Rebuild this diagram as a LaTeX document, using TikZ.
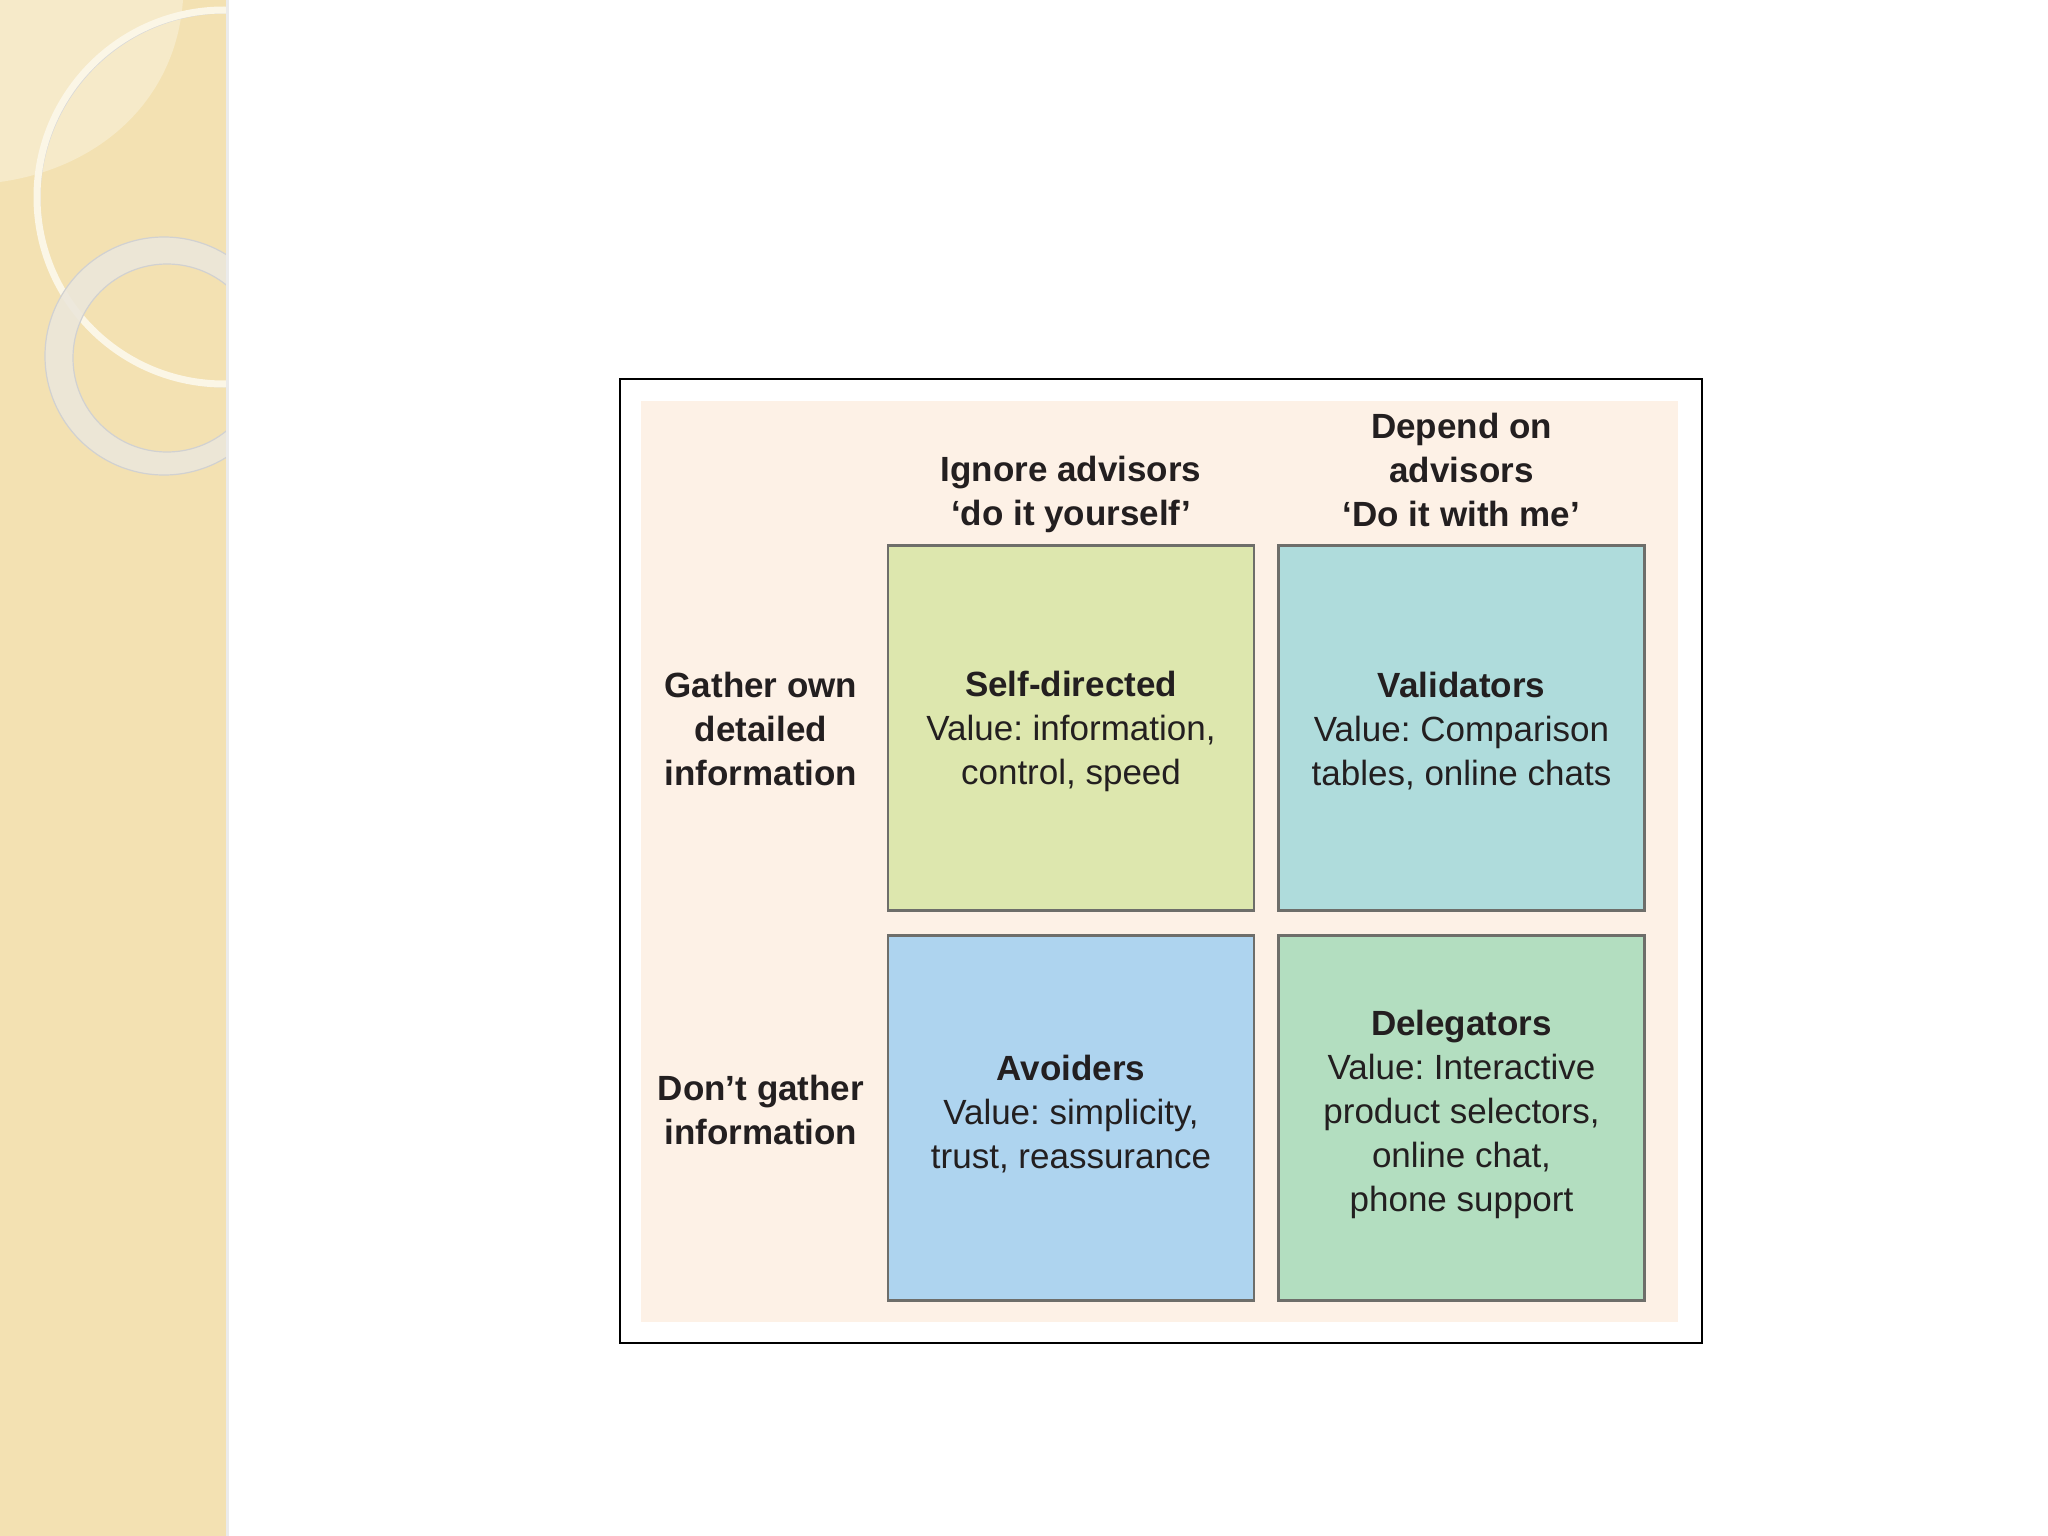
\documentclass[tikz,border=0pt]{standalone}
\usepackage{fontspec}
\setmainfont{Liberation Sans}
\frenchspacing
\begin{document}
\begin{tikzpicture}[x=1pt,y=-1pt,
  txt/.style={text=textc,align=center,inner sep=0pt,font=\fontsize{35}{44}\selectfont},
  hdr/.style={txt,font=\fontsize{35}{44}\selectfont\bfseries},
  quad/.style={draw=boxline,line width=2.2pt,minimum width=366pt,minimum height=365pt,inner sep=0pt}]
\definecolor{strip}{HTML}{F3E1B2}
\definecolor{stripl}{HTML}{F6EAC9}
\definecolor{ringc}{HTML}{ECE7DB}
\definecolor{ringl}{HTML}{FBF6E6}
\definecolor{cream}{HTML}{FDF1E6}
\definecolor{gA}{HTML}{DDE7AE}
\definecolor{tB}{HTML}{AFDCDC}
\definecolor{bC}{HTML}{AED4EF}
\definecolor{mD}{HTML}{B3DEC0}
\definecolor{boxline}{HTML}{6E6E6A}
\definecolor{textc}{HTML}{231F20}
\useasboundingbox (0,0) rectangle (2048,1536);
\fill[white] (0,0) rectangle (2048,1536);
% decorative strip
\begin{scope}
\clip (0,0) rectangle (226,1536);
\fill[strip] (0,0) rectangle (226,1536);
\fill[stripl] (0,0) -- (183,0) .. controls (176,100) and (100,168) .. (0,182) -- cycle;
\draw[black!15,line width=3pt] (226,199) circle[radius=187];
\draw[ringl,line width=7pt] (224,197) circle[radius=187];
\fill[ringc,even odd rule,opacity=0.9] (164,356) circle[radius=119] (167,358) circle[radius=94];
\draw[black!18,line width=1.2pt] (164,356) circle[radius=119];
\draw[black!18,line width=1.2pt] (167,358) circle[radius=94];
\end{scope}
\fill[black!8] (226,0) rectangle (229,1536);
% frame
\draw[black,line width=1.8pt] (620,379) rectangle (1702,1343);
\fill[cream] (641,401) rectangle (1678,1322);
% quadrants
\node[quad,fill=gA] (q1) at (1071,728) {};
\node[quad,fill=tB] (q2) at (1461.5,728) {};
\node[quad,fill=bC] (q3) at (1071,1118) {};
\node[quad,fill=mD] (q4) at (1461.5,1118) {};
% headers
\node[hdr] (h1) at (1071,494) {Ignore advisors\\‘do it yourself’};
\node[hdr] (h2) at (1461.5,470) {Depend on\\advisors\\‘Do it with me’};
\node[hdr] (r1) at (761,729) {Gather own\\detailed\\information};
\node[hdr] (r2) at (761,1110) {Don’t gather\\information};
% quadrant texts
\node[txt] (t1) at (1071,731) {\textbf{Self-directed}\\Value: information,\\control, speed};
\node[txt] (t2) at (1461.5,731) {\textbf{Validators}\\Value: Comparison\\tables, online chats};
\node[txt] (t3) at (1071,1114) {\textbf{Avoiders}\\Value: simplicity,\\trust, reassurance};
\node[txt] (t4) at (1461.5,1114) {\textbf{Delegators}\\Value: Interactive\\product selectors,\\online chat,\\phone support};
\end{tikzpicture}
\end{document}
